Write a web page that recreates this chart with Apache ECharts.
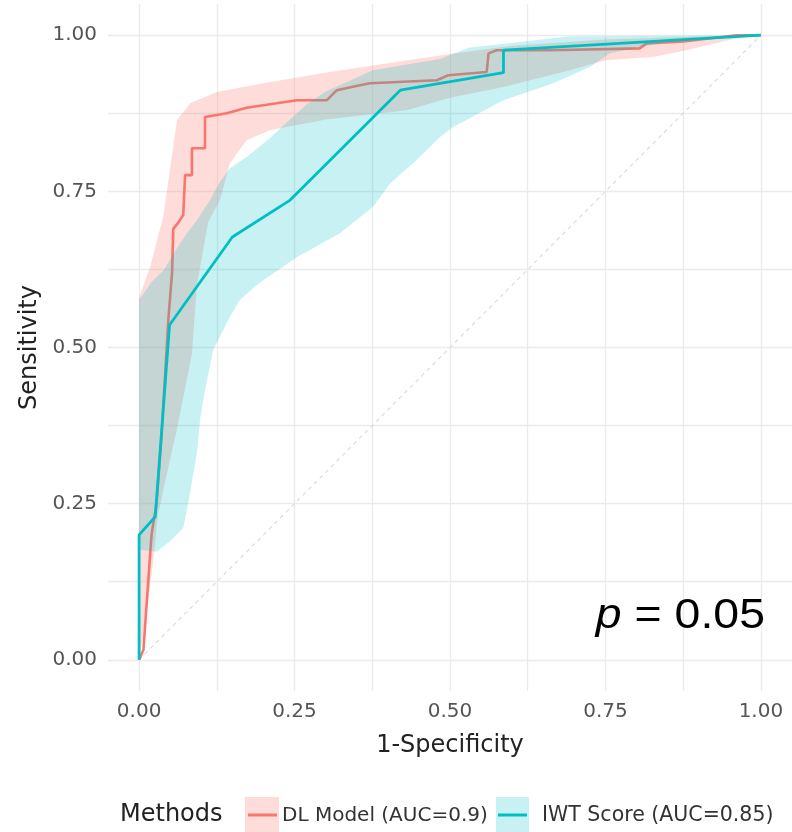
<!DOCTYPE html>
<html><head><meta charset="utf-8">
<script src="https://cdn.jsdelivr.net/npm/echarts@6/dist/echarts.min.js"></script>
<style>html,body{margin:0;padding:0;background:#fff}#c{width:792px;height:832px}</style>
</head><body><div id="c"></div>
<script>
const tickValues = [0, 0.25, 0.5, 0.75, 1];
const gridValues = [0, 0.125, 0.25, 0.375, 0.5, 0.625, 0.75, 0.875, 1];
const seriesNames = ['DL Model (AUC=0.9)', 'IWT Score (AUC=0.85)'];
const legendTitle = 'Methods';
const xTitle = '1-Specificity';
const yTitle = 'Sensitivity';
const pSymbol = 'p';
const pValue = '0.05';

// DL Model ROC curve
const dlX = [0, 0.007, 0.02, 0.028, 0.036, 0.047, 0.053, 0.055, 0.063, 0.071, 0.074, 0.085, 0.085, 0.106, 0.106, 0.141, 0.173, 0.221, 0.254, 0.302, 0.318, 0.355, 0.371, 0.479, 0.497, 0.559, 0.562, 0.575, 0.661, 0.805, 0.816, 0.875, 0.961, 1];
const dlY = [0, 0.016, 0.2, 0.25, 0.357, 0.544, 0.62, 0.69, 0.70, 0.712, 0.776, 0.776, 0.819, 0.819, 0.869, 0.875, 0.884, 0.891, 0.896, 0.896, 0.912, 0.92, 0.923, 0.928, 0.936, 0.941, 0.971, 0.976, 0.976, 0.979, 0.987, 0.99, 1, 1];
// IWT Score ROC curve
const iwtX = [0, 0, 0.026, 0.049, 0.15, 0.243, 0.42, 0.586, 0.586, 1];
const iwtY = [0, 0.2, 0.229, 0.536, 0.677, 0.736, 0.912, 0.94, 0.976, 1];

// DL Model confidence band
const dlUpperX = [0, 0.018, 0.039, 0.061, 0.082, 0.125, 0.2, 0.307, 0.4, 0.5, 0.6, 0.75, 0.9, 1];
const dlUpperY = [0.58, 0.63, 0.71, 0.864, 0.891, 0.909, 0.923, 0.941, 0.955, 0.97, 0.983, 0.993, 0.998, 1];
const dlLowerX = [0, 0.01, 0.023, 0.03, 0.045, 0.061, 0.075, 0.085, 0.093, 0.111, 0.13, 0.146, 0.173, 0.21, 0.3, 0.43, 0.5, 0.586, 0.693, 0.75, 0.826, 0.88, 0.96, 1];
const dlLowerY = [0, 0.06, 0.16, 0.23, 0.3, 0.37, 0.44, 0.49, 0.6, 0.70, 0.736, 0.795, 0.832, 0.848, 0.865, 0.88, 0.9, 0.917, 0.944, 0.96, 0.965, 0.976, 0.995, 1];
// IWT Score confidence band
const iwtUpperX = [0, 0.02, 0.04, 0.055, 0.075, 0.093, 0.114, 0.13, 0.146, 0.173, 0.21, 0.237, 0.27, 0.3, 0.376, 0.484, 0.53, 0.69, 1];
const iwtUpperY = [0.576, 0.605, 0.624, 0.65, 0.68, 0.704, 0.736, 0.765, 0.787, 0.805, 0.835, 0.86, 0.89, 0.91, 0.944, 0.962, 0.98, 0.998, 1];
const iwtLowerX = [0, 0.028, 0.05, 0.071, 0.079, 0.093, 0.098, 0.103, 0.119, 0.146, 0.162, 0.189, 0.254, 0.323, 0.376, 0.404, 0.446, 0.484, 0.505, 0.586, 0.666, 0.725, 0.757, 0.85, 1];
const iwtLowerY = [0.176, 0.173, 0.19, 0.211, 0.251, 0.331, 0.384, 0.416, 0.496, 0.549, 0.576, 0.6, 0.645, 0.683, 0.725, 0.763, 0.8, 0.837, 0.853, 0.896, 0.923, 0.949, 0.971, 0.99, 1];

// Chance diagonal
const diagX = [0, 1];
const diagY = [0, 1];

const RED = '#F8766D', TEAL = '#00BFC4';
const RED_FILL = 'rgba(248,118,109,0.26)', TEAL_FILL = 'rgba(0,191,196,0.22)';

const pairs = (xs, ys) => xs.map((x, i) => [x, ys[i]]);

function bandSeries(name, ux, uy, lx, ly, fill, z) {
  return {
    type: 'custom', name: name, z: z, silent: true,
    data: [[ux[0], uy[0]]],
    renderItem: function (params, api) {
      const pts = [];
      for (let i = 0; i < ux.length; i++) pts.push(api.coord([ux[i], uy[i]]));
      for (let i = lx.length - 1; i >= 0; i--) pts.push(api.coord([lx[i], ly[i]]));
      return { type: 'polygon', shape: { points: pts }, style: { fill: fill, stroke: null } };
    }
  };
}

const chart = echarts.init(document.getElementById('c'), null, { renderer: 'canvas' });
const labelFont = { fontFamily: 'DejaVu Sans', fontSize: 20, color: '#555' };
const axisCommon = {
  type: 'value', min: -0.05, max: 1.05,
  axisLine: { show: false, onZero: false },
  axisTick: { show: false, customValues: gridValues },
  splitLine: { show: true, lineStyle: { color: '#ebebeb', width: 1.3 } },
  nameLocation: 'middle',
  nameTextStyle: { fontFamily: 'DejaVu Sans', fontSize: 24, color: '#222' }
};

chart.setOption({
  animation: false,
  backgroundColor: '#fff',
  grid: { left: 108, top: 4, width: 684, height: 687, containLabel: false },
  xAxis: Object.assign({}, axisCommon, {
    name: xTitle, nameGap: 43,
    axisLabel: Object.assign({ customValues: tickValues, margin: 11, formatter: v => v.toFixed(2) }, labelFont)
  }),
  yAxis: Object.assign({}, axisCommon, {
    name: yTitle, nameGap: 65,
    axisLabel: Object.assign({ customValues: tickValues, margin: 11, formatter: v => v.toFixed(2) }, labelFont)
  }),
  series: [
    { type: 'line', name: 'diag', z: 1, data: pairs(diagX, diagY), showSymbol: false, symbol: 'none', silent: true,
      lineStyle: { color: '#dcdcdc', width: 1.2, type: [4, 4] } },
    bandSeries(seriesNames[0] + ' band', dlUpperX, dlUpperY, dlLowerX, dlLowerY, RED_FILL, 2),
    { type: 'line', name: seriesNames[0], z: 3, data: pairs(dlX, dlY), showSymbol: false, symbol: 'none',
      lineStyle: { color: RED, width: 2.6 } },
    bandSeries(seriesNames[1] + ' band', iwtUpperX, iwtUpperY, iwtLowerX, iwtLowerY, TEAL_FILL, 4),
    { type: 'line', name: seriesNames[1], z: 5, data: pairs(iwtX, iwtY), showSymbol: false, symbol: 'none',
      lineStyle: { color: TEAL, width: 2.8 } }
  ],
  graphic: [
    { type: 'text', x: 765, y: 616, scaleX: 1.08, z: 100,
      style: { x: 0, y: 0, text: '{i|' + pSymbol + '} = ' + pValue, align: 'right', verticalAlign: 'middle',
        fontFamily: 'Liberation Sans', fontSize: 43, fill: '#000',
        rich: { i: { fontFamily: 'Liberation Sans', fontSize: 43, fontStyle: 'italic', fill: '#000' } } } },
    { type: 'text', x: 120, y: 815, z: 100,
      style: { text: legendTitle, fontFamily: 'DejaVu Sans', fontSize: 24, fill: '#222', verticalAlign: 'middle' } },
    { type: 'rect', z: 100, shape: { x: 245, y: 797, width: 34, height: 36 }, style: { fill: RED_FILL } },
    { type: 'line', z: 101, shape: { x1: 248, y1: 815, x2: 277, y2: 815 }, style: { stroke: RED, lineWidth: 3 } },
    { type: 'text', x: 282, y: 816, z: 100,
      style: { text: seriesNames[0], fontFamily: 'DejaVu Sans', fontSize: 20, fill: '#333', verticalAlign: 'middle' } },
    { type: 'rect', z: 100, shape: { x: 496, y: 797, width: 33, height: 36 }, style: { fill: TEAL_FILL } },
    { type: 'line', z: 101, shape: { x1: 498, y1: 815, x2: 527, y2: 815 }, style: { stroke: TEAL, lineWidth: 3 } },
    { type: 'text', x: 542, y: 816, z: 100,
      style: { text: seriesNames[1], fontFamily: 'DejaVu Sans', fontSize: 20.5, fill: '#333', verticalAlign: 'middle' } }
  ]
});
</script></body></html>
